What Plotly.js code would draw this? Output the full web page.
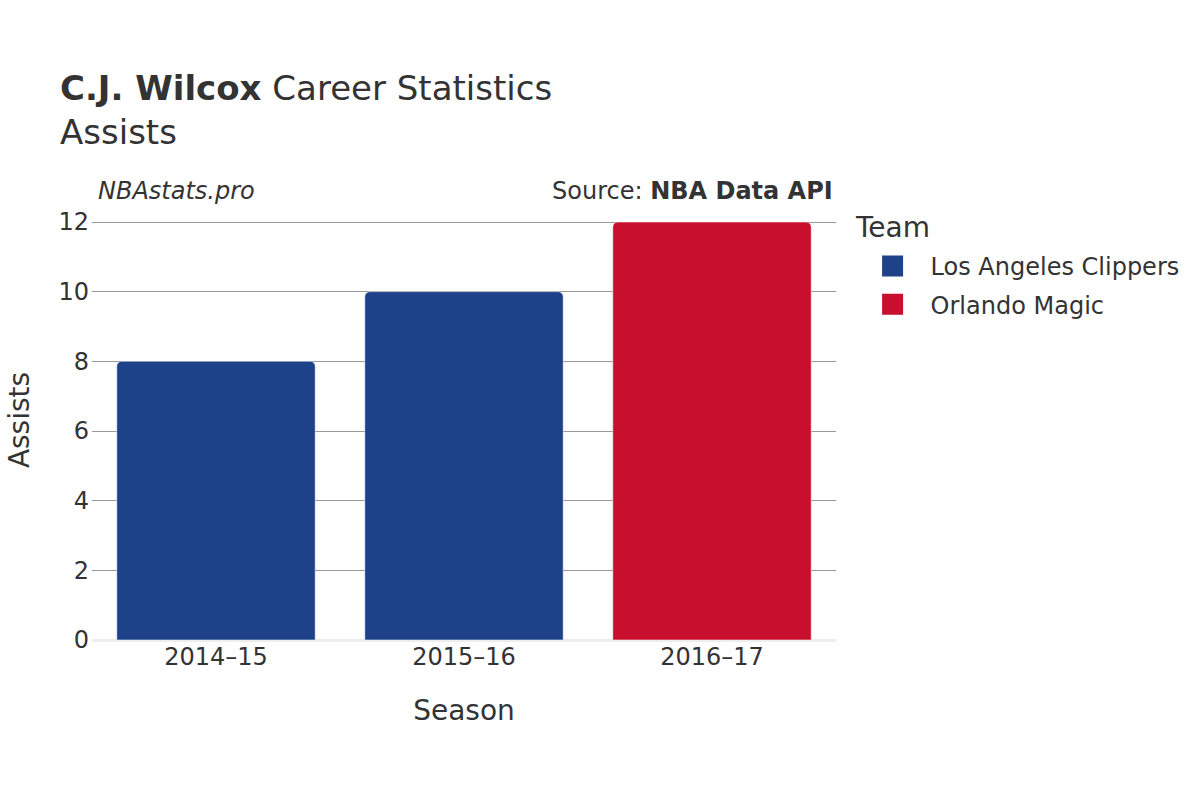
<!DOCTYPE html>
<html>
<head>
<meta charset="utf-8">
<script src="https://cdn.plot.ly/plotly-3.0.1.min.js"></script>
<style>html,body{margin:0;padding:0;background:#fff;}#chart{width:1200px;height:800px;}
.legend .scatterpts path{stroke-linejoin:round;}</style>
</head>
<body>
<div id="chart"></div>
<script>
const seasons = ["2014–15", "2015–16", "2016–17"];
const clippersSeasons = ["2014–15", "2015–16"];
const clippersAssists = [8, 10];
const magicSeasons = ["2016–17"];
const magicAssists = [12];
const teamNames = ["Los Angeles Clippers", "Orlando Magic"];
const teamColors = ["#1d428a", "#c8102e"];
const yTicks = [0, 2, 4, 6, 8, 10, 12];

const font = "DejaVu Sans, sans-serif";
const traces = [
  {type: "bar", name: teamNames[0], x: clippersSeasons, y: clippersAssists, showlegend: false, legendgroup: "a",
   marker: {color: teamColors[0], line: {color: "rgba(255,255,255,0.5)", width: 1}}},
  {type: "bar", name: teamNames[1], x: magicSeasons, y: magicAssists, showlegend: false, legendgroup: "b",
   marker: {color: teamColors[1], line: {color: "rgba(255,255,255,0.5)", width: 1}}},
  {type: "scatter", mode: "markers", name: teamNames[0], x: [null], y: [null], legendgroup: "a",
   marker: {symbol: "square", size: 20, color: teamColors[0], line: {color: teamColors[0], width: 5}}},
  {type: "scatter", mode: "markers", name: teamNames[1], x: [null], y: [null], legendgroup: "b",
   marker: {symbol: "square", size: 20, color: teamColors[1], line: {color: teamColors[1], width: 5}}}
];
const layout = {
  width: 1200, height: 800,
  paper_bgcolor: "#fff", plot_bgcolor: "#fff",
  font: {family: font, color: "#333", size: 20},
  margin: {l: 92, r: 364, t: 200, b: 160, autoexpand: false},
  barmode: "relative", bargap: 0.2, barcornerradius: 5,
  title: {text: "<b>C.J. Wilcox</b> Career Statistics<br>Assists", x: 60/1200, xanchor: "left",
          yref: "container", y: 1 - 100/800, yanchor: "top", font: {size: 34, family: font, color: "#333"}},
  xaxis: {categoryorder: "array", categoryarray: seasons, tickfont: {size: 24},
          title: {text: "Season", font: {size: 28}, standoff: 30}, showgrid: false, ticks: "", ticklen: 0},
  yaxis: {autorange: true, tickvals: yTicks, tickfont: {size: 24}, showgrid: true, gridcolor: "#999", gridwidth: 1,
          zeroline: true, zerolinecolor: "#eee", zerolinewidth: 3,
          ticks: "", ticklabelstandoff: 2,
          title: {text: "Assists", font: {size: 28}, standoff: 20}},
  legend: {xref: "paper", yref: "paper", x: 1.025, xanchor: "left", y: (640-244)/440, yanchor: "top",
           font: {size: 24}, tracegroupgap: 4, itemwidth: 66},
  annotations: [
    {text: "Team", xref: "paper", yref: "paper", x: (853-92)/744, y: (640-227)/440, xanchor: "left", yanchor: "middle",
     showarrow: false, font: {size: 28, color: "#333"}},
    {text: "<i>NBAstats.pro</i>", xref: "paper", yref: "paper", x: 0.005, y: (640-191)/440, xanchor: "left", yanchor: "middle",
     showarrow: false, font: {size: 24, color: "#333"}},
    {text: "Source: <b>NBA Data API</b>", xref: "paper", yref: "paper", x: 0.999, y: (640-191)/440, xanchor: "right", yanchor: "middle",
     showarrow: false, font: {size: 24, color: "#333"}}
  ]
};
Plotly.newPlot("chart", traces, layout, {displayModeBar: false});
</script>
</body>
</html>
